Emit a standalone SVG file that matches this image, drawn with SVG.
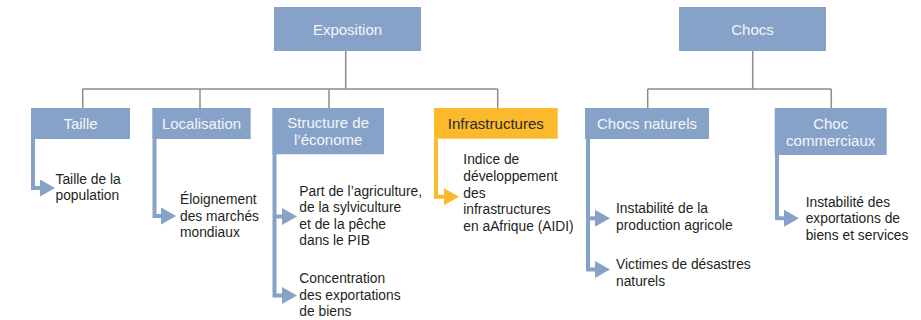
<svg xmlns="http://www.w3.org/2000/svg" width="921" height="320" viewBox="0 0 921 320">
<style>
  .box{fill:#86a2c8}
  .ybox{fill:#fbb92b}
  .lbl{font-family:"Liberation Sans",Arial,sans-serif;font-size:15px;fill:#f4f6fa;text-anchor:middle}
  .dlbl{fill:#2a2a2a}
  .txt{font-family:"Liberation Sans",Arial,sans-serif;font-size:13.8px;fill:#231f20}
  .conn{fill:none;stroke:#8c8c8c;stroke-width:1.5}
  .arr{fill:none;stroke:#86a2c8;stroke-width:4}
  .yarr{fill:none;stroke:#fbb92b;stroke-width:4}
</style>
<defs>
  <marker id="ah" markerUnits="userSpaceOnUse" viewBox="0 0 15 17" markerWidth="15" markerHeight="17" refX="0" refY="8.5" orient="auto">
    <path d="M0,0 L15,8.5 L0,17 Z" fill="#86a2c8"/>
  </marker>
  <marker id="yah" markerUnits="userSpaceOnUse" viewBox="0 0 15 17" markerWidth="15" markerHeight="17" refX="0" refY="8.5" orient="auto">
    <path d="M0,0 L15,8.5 L0,17 Z" fill="#fbb92b"/>
  </marker>
</defs>

<g id="connectors">
  <path class="conn" d="M345.7,51 V89 M82.7,89 H497.7 M82.7,89 V108 M200,89 V108 M329,89 V108 M497.7,89 V108"/>
  <path class="conn" d="M752.7,51 V89 M647.7,89 H831.3 M647.7,89 V108 M831.3,89 V108"/>
  <path class="arr" d="M33,139 V188 H40" marker-end="url(#ah)"/>
  <path class="arr" d="M154.5,139 V216 H161" marker-end="url(#ah)"/>
  <path class="arr" d="M274.5,154 V295.5 H282" marker-end="url(#ah)"/>
  <path class="arr" d="M274.5,216.5 H282" marker-end="url(#ah)"/>
  <path class="yarr" d="M436,138.5 V196.7 H444" marker-end="url(#yah)"/>
  <path class="arr" d="M588,139 V269.5 H595" marker-end="url(#ah)"/>
  <path class="arr" d="M588,218.3 H595" marker-end="url(#ah)"/>
  <path class="arr" d="M777,155 V218.3 H784" marker-end="url(#ah)"/>
</g>

<g id="exposition">
  <rect class="box" x="274" y="7" width="147" height="44"/>
  <text class="lbl" x="347.5" y="34.5">Exposition</text>
</g>
<g id="chocs">
  <rect class="box" x="679" y="7" width="147" height="44"/>
  <text class="lbl" x="752.5" y="34.5">Chocs</text>
</g>
<g id="taille">
  <rect class="box" x="31" y="108" width="99" height="31"/>
  <text class="lbl" x="80.5" y="129">Taille</text>
</g>
<g id="localisation">
  <rect class="box" x="152.3" y="108" width="98.4" height="31"/>
  <text class="lbl" x="201.5" y="129">Localisation</text>
</g>
<g id="structure">
  <rect class="box" x="272.3" y="108" width="111.7" height="46.3"/>
  <text class="lbl" x="328.2" y="128.3">Structure de</text>
  <text class="lbl" x="328.2" y="145">l’économe</text>
</g>
<g id="infrastructures">
  <rect class="ybox" x="434" y="108" width="123.7" height="30.7"/>
  <text class="lbl dlbl" x="495.8" y="128.5">Infrastructures</text>
</g>
<g id="chocs-naturels">
  <rect class="box" x="585" y="108" width="124" height="31"/>
  <text class="lbl" x="647" y="129">Chocs naturels</text>
</g>
<g id="choc-commerciaux">
  <rect class="box" x="774.7" y="108" width="112" height="47"/>
  <text class="lbl" x="830.7" y="129.3">Choc</text>
  <text class="lbl" x="830.7" y="145.7">commerciaux</text>
</g>

<g id="taille-population">
  <text class="txt" x="55.5" y="184">Taille de la</text>
  <text class="txt" x="55.5" y="200">population</text>
</g>
<g id="eloignement">
  <text class="txt" x="180" y="204">Éloignement</text>
  <text class="txt" x="180" y="220.5">des marchés</text>
  <text class="txt" x="180" y="237">mondiaux</text>
</g>
<g id="part-agriculture">
  <text class="txt" x="299.3" y="195.7">Part de l’agriculture,</text>
  <text class="txt" x="299.3" y="212.3">de la sylviculture</text>
  <text class="txt" x="299.3" y="229">et de la pêche</text>
  <text class="txt" x="299.3" y="245">dans le PIB</text>
</g>
<g id="concentration">
  <text class="txt" x="299.3" y="283.3">Concentration</text>
  <text class="txt" x="299.3" y="299.5">des exportations</text>
  <text class="txt" x="299.3" y="315.5">de biens</text>
</g>
<g id="aidi">
  <text class="txt" x="463.3" y="164.3">Indice de</text>
  <text class="txt" x="463.3" y="181">développement</text>
  <text class="txt" x="463.3" y="197.7">des</text>
  <text class="txt" x="463.3" y="214.3">infrastructures</text>
  <text class="txt" x="463.3" y="231">en aAfrique (AIDI)</text>
</g>
<g id="instabilite-production">
  <text class="txt" x="616" y="213.3">Instabilité de la</text>
  <text class="txt" x="616" y="230">production agricole</text>
</g>
<g id="victimes">
  <text class="txt" x="616" y="269">Victimes de désastres</text>
  <text class="txt" x="616" y="285.5">naturels</text>
</g>
<g id="instabilite-exportations">
  <text class="txt" x="805.7" y="206.7">Instabilité des</text>
  <text class="txt" x="805.7" y="223.3">exportations de</text>
  <text class="txt" x="805.7" y="239.5">biens et services</text>
</g>
</svg>
